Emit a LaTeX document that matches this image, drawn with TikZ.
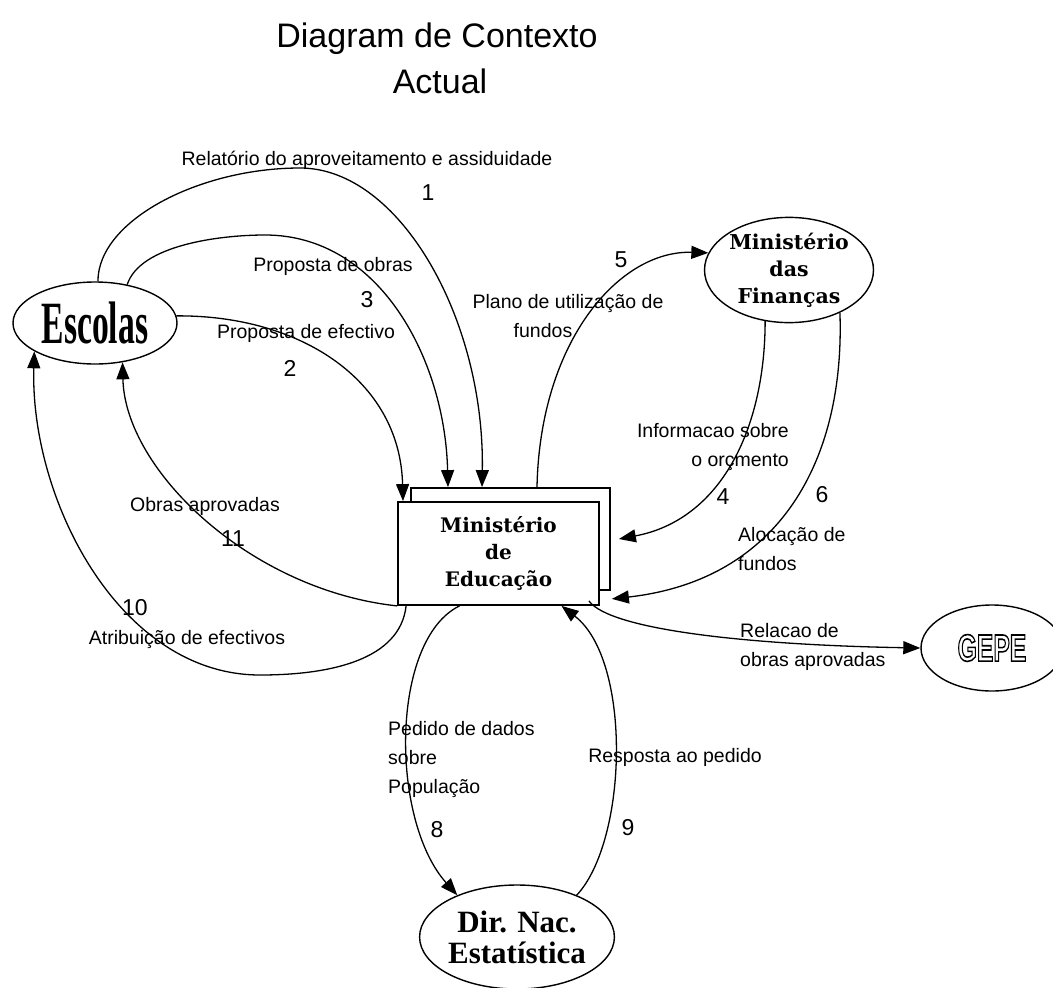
\documentclass[tikz,border=0pt]{standalone}
\usepackage{fontspec}
\setmainfont{Liberation Sans}
\newfontfamily\dejaserif{DejaVu Serif}
\newfontfamily\libserif{Liberation Serif}
\usepackage{graphicx}
\usetikzlibrary{shapes.geometric,arrows.meta}
\newcommand{\hollow}[1]{\special{pdf:literal direct 1 Tr 1.6 w}#1\special{pdf:literal direct 0 Tr 1 w}}

\begin{document}
\begin{tikzpicture}[x=1pt, y=-1pt,
  flow/.style={line width=1.3pt, -{Triangle[length=17pt,width=13pt]}},
  lbl/.style={font=\fontsize{19.5}{29}\selectfont, inner sep=0pt},
  nr/.style={font=\fontsize{23}{23}\selectfont, inner sep=0pt},
  ent/.style={shape=ellipse, draw, line width=1.4pt, inner sep=0pt},
  box/.style={shape=rectangle, draw, line width=1.8pt, fill=white, inner sep=0pt}]
\useasboundingbox (0,0) rectangle (1053,988);

\node[font=\fontsize{34}{34}\selectfont, anchor=base] (title) at (437,47) {Diagram de Contexto};
\node[font=\fontsize{34}{34}\selectfont, anchor=base] (title2) at (440,93) {Actual};

\node[ent, minimum width=164pt, minimum height=82pt] (esc) at (95,323) {\scalebox{0.56}[1]{\libserif\bfseries\fontsize{60}{60}\selectfont Escolas}};
\node[ent, minimum width=162pt, minimum height=92pt, align=center, font=\dejaserif\bfseries\fontsize{20.5}{27}\selectfont] (fin) at (789,270) {Ministério\\das\\Finanças};
\node[ent, minimum width=142pt, minimum height=86pt] (gepe) at (992,648) {\scalebox{0.65}[1]{\fontsize{38}{38}\selectfont\bfseries\hollow{GEPE}}};
\node[ent, minimum width=176pt, minimum height=104pt, align=center, font=\libserif\bfseries\fontsize{31}{31}\selectfont] (dir) at (517,937) {Dir. Nac.\\Estatística};
\node[box, minimum width=199pt, minimum height=102pt] (edub) at (510.5,539) {};
\node[box, minimum width=201pt, minimum height=103pt, align=center, font=\dejaserif\bfseries\fontsize{20}{27}\selectfont] (edu) at (498.5,553.5) {Ministério\\de\\Educação};

% Escolas -> Ministerio de Educacao
\draw[flow] (esc.86) .. controls (98,220) and (200,168) .. (300,168) .. controls (400,168) and (485,320) .. ([xshift=-28.5pt]edub.north);
\draw[flow] (esc.5) .. controls (300,315) and (400,380) .. ([xshift=-95.5pt]edu.north);
\draw[flow] (esc.50) .. controls (140,245) and (220,235) .. (265,235) .. controls (380,235) and (445,360) .. ([xshift=-62.5pt]edub.north);
% Educacao <-> Financas
\draw[flow] ([xshift=26.5pt]edub.north) .. controls (540,340) and (620,250) .. (fin.168);
\draw[flow] (fin.245) .. controls (765,430) and (720,520) .. ([xshift=8pt]edub.east);
\draw[flow] (fin.320) .. controls (845,460) and (780,580) .. ([xshift=12pt,yshift=7pt]edu.south east);
% Educacao -> GEPE
\draw[flow] ([xshift=-11pt,yshift=5pt]edu.south east) .. controls (610,630) and (750,645) .. (gepe.west);
% Educacao <-> Dir. Nac.
\draw[flow] ([xshift=-39pt]edu.south) .. controls (390,640) and (390,820) .. (dir.145);
\draw[flow] (dir.35) .. controls (628,840) and (632,660) .. ([xshift=63pt]edu.south);
% Educacao -> Escolas
\draw[flow] ([xshift=9pt]edu.south west) .. controls (400,660) and (330,675) .. (260,675) .. controls (120,675) and (30,500) .. (esc.205);
\draw[flow] (edu.south west) .. controls (250,590) and (125,470) .. (esc.305);

\node[lbl] (l1) at (367,160) {Relatório do aproveitamento e assiduidade};
\node[nr] (n1) at (428,193) {1};
\node[lbl] (l3) at (333,266) {Proposta de obras};
\node[nr] (n3) at (367,300) {3};
\node[lbl] (l2) at (306,333) {Proposta de efectivo};
\node[nr] (n2) at (290,368) {2};
\node[lbl, align=center] (l5) at (568,316) {Plano de utilização de\\fundos\hspace*{50pt}};
\node[nr] (n5) at (621,260) {5};
\node[lbl, align=right, anchor=east] (l4) at (789,447) {Informacao sobre\\o orçmento};
\node[nr] (n4) at (723,497) {4};
\node[nr] (n6) at (822,495) {6};
\node[lbl, align=left, anchor=west] (l6) at (738,549) {Alocação de\\fundos};
\node[lbl, align=left, anchor=west] (l7) at (740,647) {Relacao de\\obras aprovadas};
\node[lbl] (l11) at (205,506) {Obras aprovadas};
\node[nr] (n11) at (233,539) {11};
\node[nr] (n10) at (135,608) {10};
\node[lbl] (l10) at (187,639) {Atribuição de efectivos};
\node[lbl, align=left, anchor=west] (l8) at (388,759) {Pedido de dados\\sobre\\População};
\node[nr] (n8) at (437,830) {8};
\node[lbl] (l9) at (675,757) {Resposta ao pedido};
\node[nr] (n9) at (628,828) {9};
\end{tikzpicture}
\end{document}
